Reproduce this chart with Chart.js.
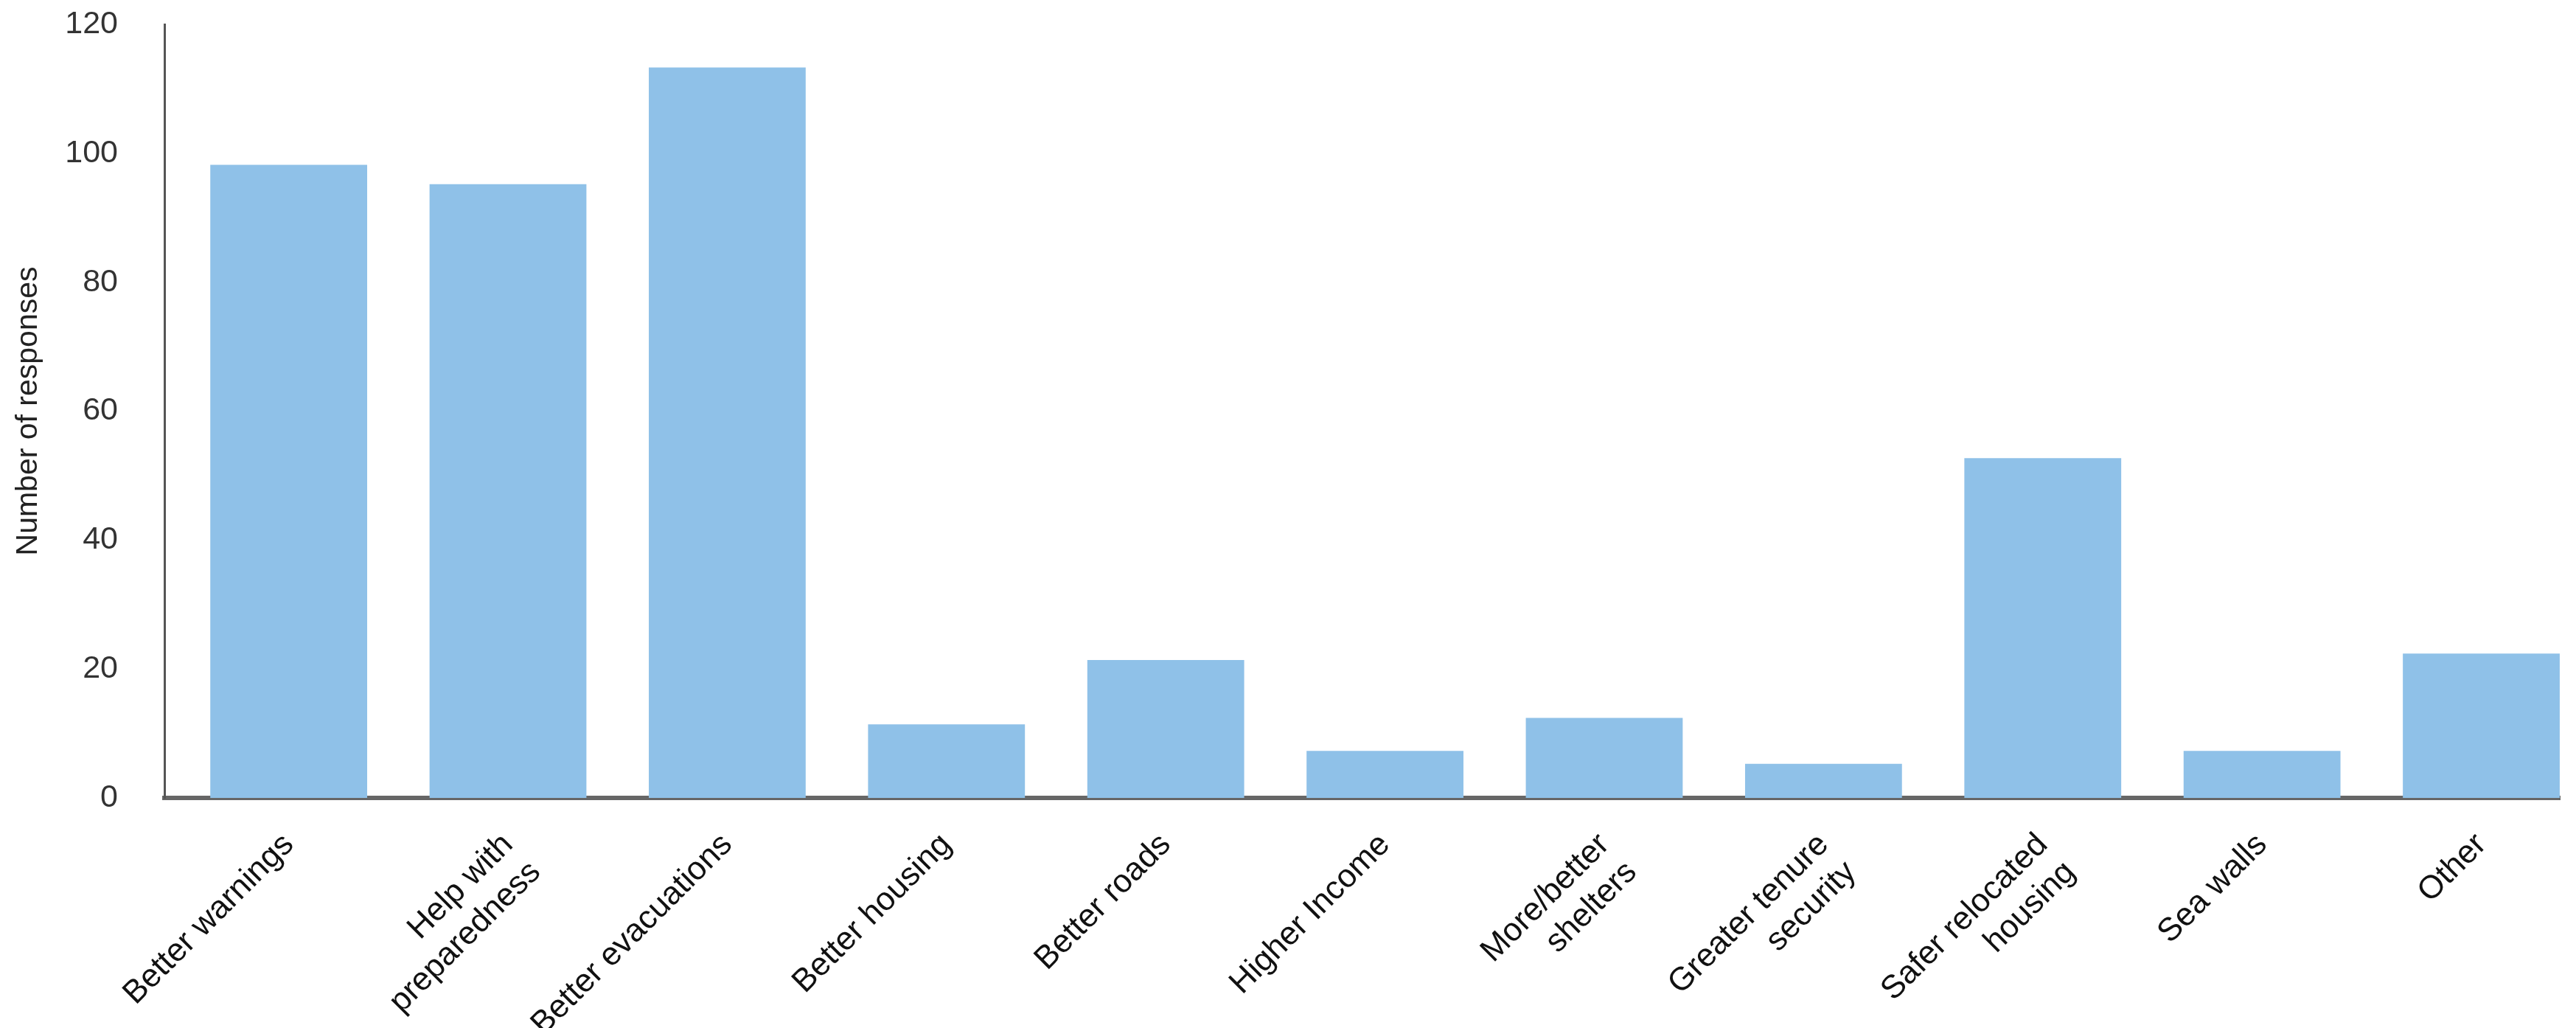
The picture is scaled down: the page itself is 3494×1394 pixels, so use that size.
<!DOCTYPE html>
<html>
<head>
<meta charset="utf-8">
<script src="https://cdn.jsdelivr.net/npm/chart.js@4.4.0/dist/chart.umd.min.js"></script>
<style>
  html, body { margin: 0; padding: 0; background: #fff; overflow: hidden; }
  #wrap { width: 3494px; height: 1394px; }
</style>
</head>
<body>
<div id="wrap"><canvas id="barChart" width="3494" height="1394"></canvas></div>
<script>
// categories and values
const categories = [
    'Better warnings',
    ['Help with', 'preparedness'],
    'Better evacuations',
    'Better housing',
    'Better roads',
    'Higher Income',
    ['More/better', 'shelters'],
    ['Greater tenure', 'security'],
    ['Safer relocated', 'housing'],
    'Sea walls',
    'Other'
];
const responses = [98.2, 95.2, 113.3, 11.4, 21.4, 7.3, 12.4, 5.3, 52.7, 7.3, 22.4];
const yTicks = [0, 20, 40, 60, 80, 100, 120];

const narrow = '"Liberation Sans Narrow", "Arial Narrow", "Liberation Sans", Arial, sans-serif';

let points = responses.map((v, i) => ({ x: i, y: v }));

let ctx = document.getElementById('barChart');

new Chart(ctx, {
    type: 'bar',
    data: {
        datasets: [{
            label: 'Number of responses',
            data: points,
            backgroundColor: '#8fc1e8',
            borderWidth: 0,
            categoryPercentage: 1,
            barPercentage: 0.7155
        }]
    },
    options: {
        responsive: false,
        animation: false,
        layout: { padding: { left: 0, top: 33, right: 22, bottom: 0 } },
        plugins: {
            legend: { display: false },
            tooltip: { enabled: false }
        },
        scales: {
            x: {
                type: 'linear',
                offset: false,
                min: -0.567,
                max: 10.358,
                grid: { display: false, offset: false },
                border: { display: true, color: '#666', width: 6 },
                ticks: {
                    stepSize: 1,
                    includeBounds: false,
                    autoSkip: false,
                    maxRotation: 45,
                    minRotation: 45,
                    padding: 30,
                    color: '#111',
                    font: { family: narrow, size: 44 },
                    callback: v => Number.isInteger(v) ? categories[v] : ''
                },
                afterFit: s => { s.height = 312; s.paddingLeft = 0; s.paddingRight = 0; }
            },
            y: {
                min: 0,
                max: 120,
                grid: { display: false },
                border: { display: true, color: '#555', width: 3 },
                afterBuildTicks: s => { s.ticks = yTicks.map(v => ({ value: v })); },
                ticks: {
                    padding: 55,
                    color: '#333',
                    font: { family: narrow, size: 43 }
                },
                title: {
                    display: true,
                    text: 'Number of responses',
                    color: '#222',
                    font: { family: narrow, size: 41 },
                    padding: { top: 14, bottom: 0 }
                },
                afterFit: s => { s.width = 223; s.paddingTop = 0; s.paddingBottom = 0; }
            }
        }
    }
});
</script>
</body>
</html>
